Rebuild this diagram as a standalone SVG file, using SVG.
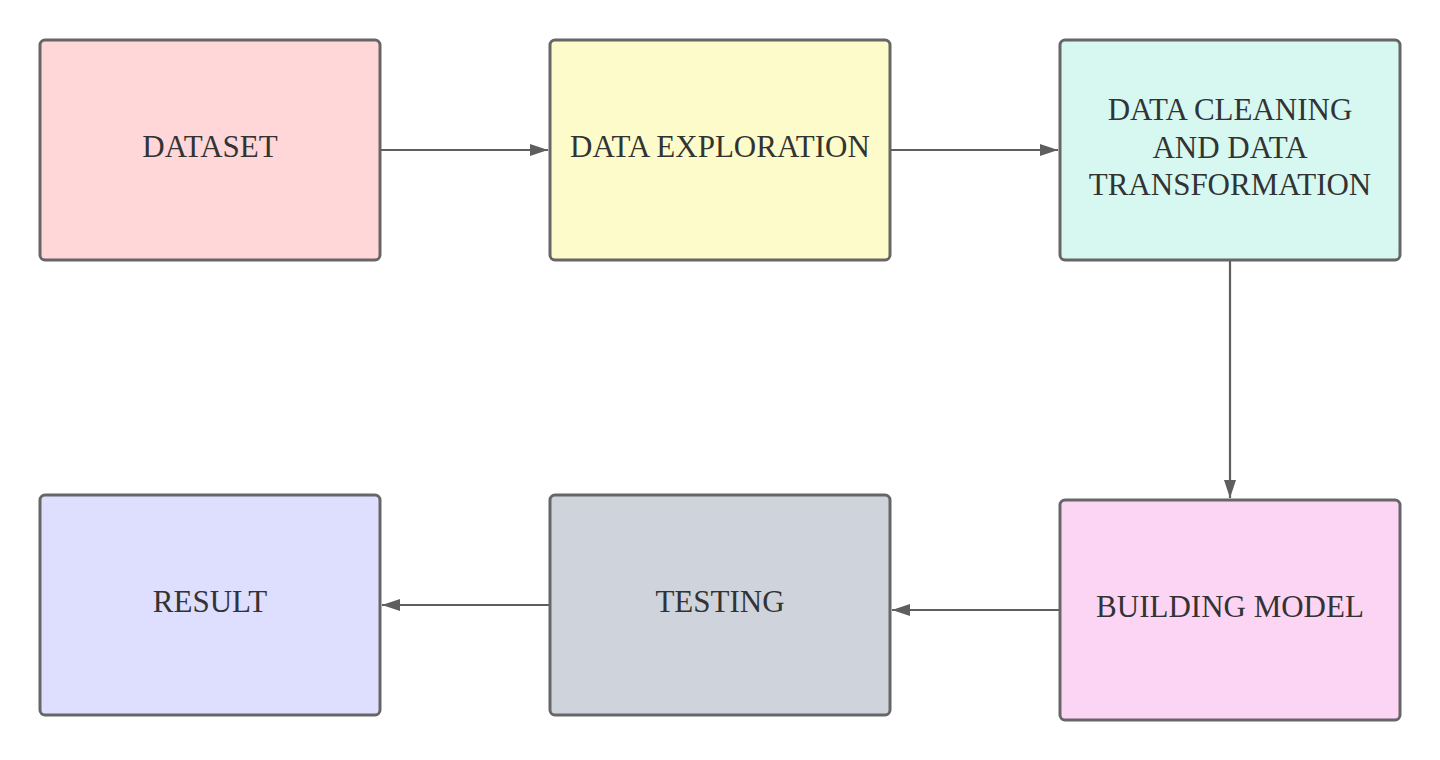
<svg xmlns="http://www.w3.org/2000/svg" width="1440" height="760" viewBox="0 0 1440 760">
<style>
.box{stroke:#666666;stroke-width:3}
.lbl{font-family:"Liberation Serif","Times New Roman",serif;font-size:31px;fill:#333333;text-anchor:middle}
.edge{stroke:#5e5e5e;stroke-width:2.2;fill:none}
</style>
<defs>
<marker id="arr" viewBox="0 0 18 12" refX="18" refY="6" markerWidth="18" markerHeight="12" markerUnits="userSpaceOnUse" orient="auto">
<path d="M0,0 L18,6 L0,12 Z" fill="#5e5e5e"/>
</marker>
</defs>
<rect width="1440" height="760" fill="#ffffff"/>
<g id="connectors">
<path class="edge" d="M381,150 H548" marker-end="url(#arr)"/>
<path class="edge" d="M891,150 H1058" marker-end="url(#arr)"/>
<path class="edge" d="M1230,261 V498" marker-end="url(#arr)"/>
<path class="edge" d="M1059,610 H892" marker-end="url(#arr)"/>
<path class="edge" d="M549,605 H382" marker-end="url(#arr)"/>
</g>
<g id="dataset">
<rect class="box" x="40" y="40" width="340" height="220" rx="5" fill="#ffd7d9"/>
<text class="lbl" x="210" y="157">DATASET</text>
</g>
<g id="exploration">
<rect class="box" x="550" y="40" width="340" height="220" rx="5" fill="#fcfbc9"/>
<text class="lbl" x="720" y="157">DATA EXPLORATION</text>
</g>
<g id="cleaning">
<rect class="box" x="1060" y="40" width="340" height="220" rx="5" fill="#d6f8f1"/>
<text class="lbl" x="1230" y="120">DATA CLEANING</text>
<text class="lbl" x="1230" y="157.5">AND DATA</text>
<text class="lbl" x="1230" y="194.5">TRANSFORMATION</text>
</g>
<g id="building">
<rect class="box" x="1060" y="500" width="340" height="220" rx="5" fill="#fdd5f4"/>
<text class="lbl" x="1230" y="617">BUILDING MODEL</text>
</g>
<g id="testing">
<rect class="box" x="550" y="495" width="340" height="220" rx="5" fill="#cfd4dc"/>
<text class="lbl" x="720" y="612">TESTING</text>
</g>
<g id="result">
<rect class="box" x="40" y="495" width="340" height="220" rx="5" fill="#dedeff"/>
<text class="lbl" x="210" y="612">RESULT</text>
</g>
</svg>
